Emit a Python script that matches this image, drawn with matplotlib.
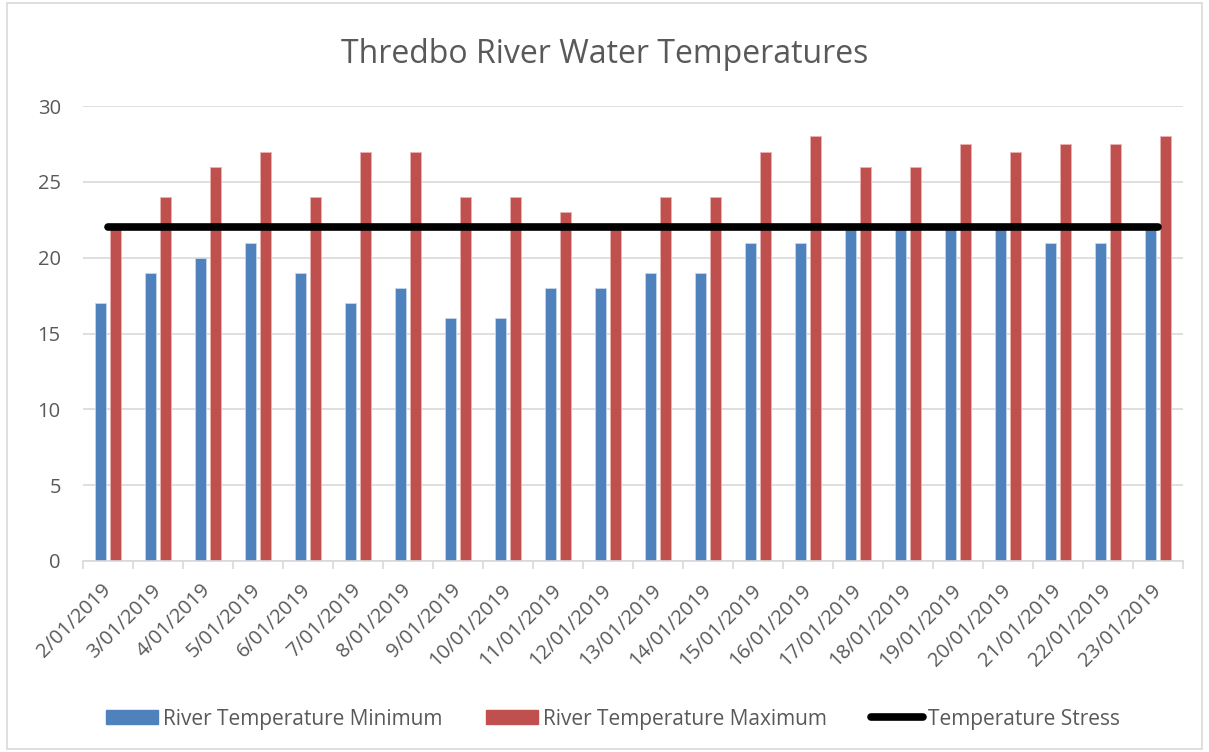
import numpy as np
import matplotlib.pyplot as plt
from matplotlib.lines import Line2D
from matplotlib.patches import Patch

# data
dates = ['2/01/2019', '3/01/2019', '4/01/2019', '5/01/2019', '6/01/2019', '7/01/2019',
         '8/01/2019', '9/01/2019', '10/01/2019', '11/01/2019', '12/01/2019', '13/01/2019',
         '14/01/2019', '15/01/2019', '16/01/2019', '17/01/2019', '18/01/2019', '19/01/2019',
         '20/01/2019', '21/01/2019', '22/01/2019', '23/01/2019']
temp_min = [17, 19, 20, 21, 19, 17, 18, 16, 16, 18, 18, 19, 19, 21, 21, 22, 22, 22, 22, 21, 21, 22]
temp_max = [22, 24, 26, 27, 24, 27, 27, 24, 24, 23, 22, 24, 24, 27, 28, 26, 26, 27.5, 27, 27.5, 27.5, 28]
stress = [22] * len(dates)

plt.rcParams['font.family'] = ['Open Sans', 'DejaVu Sans']
grey = '#595959'

fig = plt.figure(figsize=(12.09, 7.52), dpi=100)
ax = fig.add_axes([83 / 1209, 1 - 561 / 752, 1100 / 1209, 455 / 752])

x = np.arange(len(dates))
w = 0.22
ax.bar(x - 0.145, temp_min, w, color='#4f81bd', edgecolor='#c6d6ea', linewidth=0.6, zorder=2)
ax.bar(x + 0.145, temp_max, w, color='#c0504d', edgecolor='#e8b4b2', linewidth=0.6, zorder=2)
ax.plot(x, stress, color='black', linewidth=5.5, solid_capstyle='round', zorder=3)

ax.set_xlim(-0.5, len(dates) - 0.5)
ax.set_ylim(0, 30)
ax.set_yticks(range(0, 31, 5))
ax.yaxis.grid(True, color='#d9d9d9', linewidth=1.2, zorder=0)
ax.set_axisbelow(True)

ax.set_xticks(x)
ax.set_xticklabels(dates, rotation=45, ha='right', va='center', rotation_mode='anchor',
                   fontsize=14.5, color=grey)
ax.set_xticks(np.arange(-0.5, len(dates), 1), minor=True)
ax.tick_params(axis='x', which='major', length=0, pad=19)
ax.tick_params(axis='x', which='minor', length=6, color='#d9d9d9', width=1.2)
ax.tick_params(axis='y', length=0, labelsize=14.5, labelcolor=grey, pad=16)

for s in ['top', 'right', 'left']:
    ax.spines[s].set_visible(False)
ax.spines['bottom'].set_color('#d9d9d9')
ax.spines['bottom'].set_linewidth(1.2)

fig.text(0.5, 1 - 63 / 752, 'Thredbo River Water Temperatures', ha='center', va='baseline',
         fontsize=23, color=grey)

handles = [Patch(color='#4f81bd', label='River Temperature Minimum'),
           Patch(color='#c0504d', label='River Temperature Maximum'),
           Line2D([0], [0], color='black', linewidth=5.5, solid_capstyle='round', label='Temperature Stress')]
fig.legend(handles=handles, loc='center', bbox_to_anchor=(613 / 1209, 1 - 719 / 752), ncol=3, frameon=False,
           fontsize=15, labelcolor=grey, handlelength=2.5, handleheight=0.67, handletextpad=0.25,
           columnspacing=2.1)

# chart border
fig.patches.append(plt.Rectangle((7 / 1209, 3 / 752), 1 - 14 / 1209, 1 - 6 / 752, transform=fig.transFigure,
                                 fill=False, edgecolor='#d9d9d9', linewidth=1.2))

fig.savefig('out.png', dpi=100)
